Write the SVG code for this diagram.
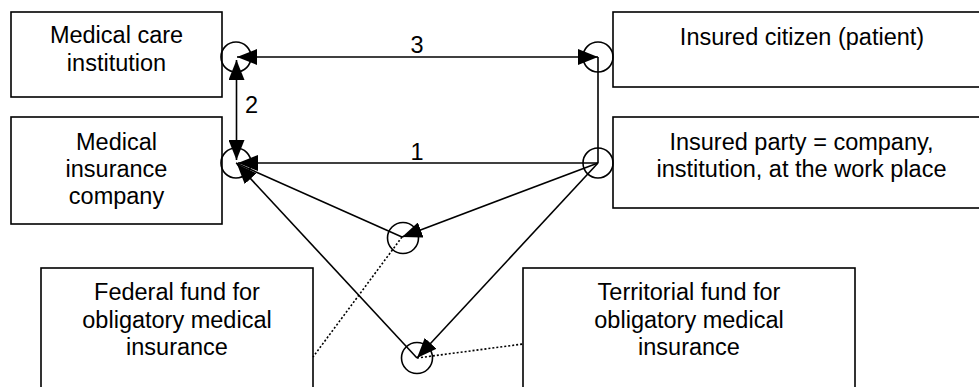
<svg xmlns="http://www.w3.org/2000/svg" width="979" height="387" viewBox="0 0 979 387">
<style>
.box{fill:#fff;stroke:#000;stroke-width:1.6}
.t{font-family:"Liberation Sans",Arial,sans-serif;font-size:23.5px;fill:#000;text-anchor:middle}
.ln{stroke:#000;stroke-width:1.6;fill:none}
.dot{stroke:#000;stroke-width:1.6;fill:none;stroke-dasharray:2 2}
.c{fill:none;stroke:#000;stroke-width:1.6}
</style>
<defs>
<marker id="ah" viewBox="0 -8 20 16" refX="20" refY="0" markerWidth="20" markerHeight="16" markerUnits="userSpaceOnUse" orient="auto-start-reverse">
<path d="M0,-8 L20,0 L0,8 Z" fill="#000"/>
</marker>
</defs>
<rect width="979" height="387" fill="#fff"/>
<g id="n1"><rect class="box" x="11" y="12" width="211" height="85"/><text class="t" x="116.5" y="43">Medical care</text><text class="t" x="116.5" y="71">institution</text></g>
<g id="n2"><rect class="box" x="11" y="117" width="211" height="107"/><text class="t" x="116.5" y="150">Medical</text><text class="t" x="116.5" y="177">insurance</text><text class="t" x="116.5" y="204">company</text></g>
<g id="n3"><rect class="box" x="613" y="12" width="380" height="75"/><text class="t" x="802" y="45">Insured citizen (patient)</text></g>
<g id="n4"><rect class="box" x="613" y="117" width="380" height="91"/><text class="t" x="801.5" y="150">Insured party = company,</text><text class="t" x="801.5" y="177">institution, at the work place</text></g>
<g id="n5"><rect class="box" x="41" y="268" width="272" height="140"/><text class="t" x="177" y="300">Federal fund for</text><text class="t" x="177" y="328">obligatory medical</text><text class="t" x="177" y="355">insurance</text></g>
<g id="n6"><rect class="box" x="523" y="268" width="332" height="140"/><text class="t" x="689" y="300">Territorial fund for</text><text class="t" x="689" y="328">obligatory medical</text><text class="t" x="689" y="355">insurance</text></g>
<g id="connectors">
<circle class="c" cx="236" cy="57" r="15"/>
<circle class="c" cx="598" cy="57" r="15"/>
<circle class="c" cx="236" cy="163" r="15"/>
<circle class="c" cx="598" cy="163" r="15"/>
<circle class="c" cx="403" cy="238" r="15.5"/>
<circle class="c" cx="417" cy="358" r="15.5"/>
<line class="ln" x1="237" y1="57" x2="598" y2="57" marker-start="url(#ah)" marker-end="url(#ah)"/>
<line class="ln" x1="236.5" y1="60" x2="236.5" y2="160" marker-start="url(#ah)" marker-end="url(#ah)"/>
<line class="ln" x1="238" y1="163" x2="598" y2="163" marker-start="url(#ah)"/>
<line class="ln" x1="598" y1="57" x2="598" y2="163"/>
<line class="ln" x1="598" y1="163" x2="402" y2="237" marker-end="url(#ah)"/>
<line class="ln" x1="236" y1="163" x2="402" y2="237"/>
<line class="ln" x1="598" y1="163" x2="417" y2="358" marker-end="url(#ah)"/>
<line class="ln" x1="417" y1="358" x2="237" y2="164" marker-end="url(#ah)"/>
<line class="dot" x1="402" y1="237" x2="313" y2="357"/>
<line class="dot" x1="417" y1="358" x2="523" y2="344"/>
<text class="t" x="417" y="53">3</text>
<text class="t" x="417" y="160">1</text>
<text class="t" x="251.5" y="113">2</text>
</g>
</svg>
